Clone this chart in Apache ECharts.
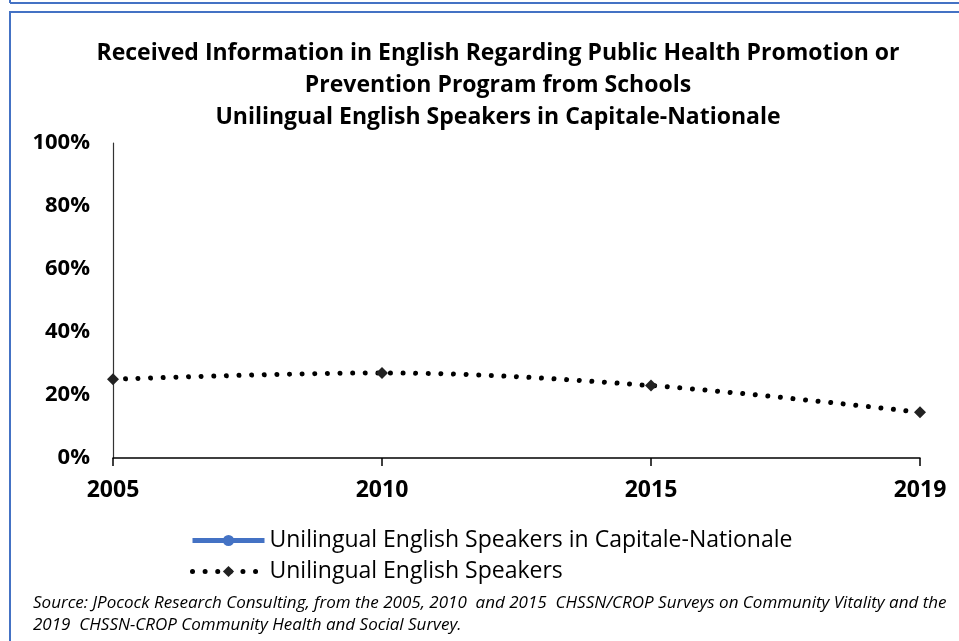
<!DOCTYPE html>
<html>
<head>
<meta charset="utf-8">
<script src="https://cdn.jsdelivr.net/npm/echarts@6/dist/echarts.min.js"></script>
<style>
html,body{margin:0;padding:0;background:#fff;}
#chart{width:959px;height:641px;}
</style>
</head>
<body>
<div id="chart"></div>
<script>
const categories = ['2005', '2010', '2015', '2019'];
const capitaleNationale = [null, null, null, null];
const unilingualEnglish = [25, 27, 23, 14.5];
const yTicks = [0, 20, 40, 60, 80, 100];
const titleLines = [
  'Received Information in English Regarding Public Health Promotion or',
  'Prevention Program from Schools',
  'Unilingual English Speakers in Capitale-Nationale'
];
const sourceLines = [
  'Source: JPocock Research Consulting, from the 2005, 2010  and 2015  CHSSN/CROP Surveys on Community Vitality and the',
  '2019  CHSSN-CROP Community Health and Social Survey.'
];
const seriesNames = ['Unilingual English Speakers in Capitale-Nationale', 'Unilingual English Speakers'];

const FONT = '"Open Sans", Lato, sans-serif';
const dotted = {color: '#000', width: 5, type: [0.01, 12.6], cap: 'round'};
const solidBlue = {color: '#4472C4', width: 5};
const chart = echarts.init(document.getElementById('chart'), null, {renderer: 'canvas'});
chart.setOption({
  animation: false,
  backgroundColor: '#fff',
  textStyle: {fontFamily: FONT},
  title: [
    {
      text: titleLines.join('\n'),
      left: 493, top: 32, textAlign: 'center',
      textStyle: {fontFamily: FONT, fontWeight: 'bold', fontSize: 23, lineHeight: 32, color: '#000'}
    },
    {
      text: sourceLines.join('\n'),
      left: 28, top: 587,
      textStyle: {fontFamily: FONT, fontStyle: 'italic', fontWeight: 'normal', fontSize: 17, lineHeight: 22, color: '#000'}
    }
  ],
  graphic: [
    {type: 'line', shape: {x1: 10, y1: 3, x2: 970, y2: 3}, style: {stroke: '#4472C4', lineWidth: 2}},
    {type: 'line', shape: {x1: 10, y1: 0, x2: 10, y2: 3}, style: {stroke: '#4472C4', lineWidth: 2}},
    {type: 'rect', shape: {x: 10, y: 12, width: 980, height: 700}, style: {stroke: '#4472C4', lineWidth: 2, fill: null}}
  ],
  legend: {
    orient: 'vertical',
    left: 185, top: 524,
    itemWidth: 72, itemHeight: 14, itemGap: 8,
    textStyle: {fontFamily: FONT, fontSize: 23, color: '#000'},
    data: [
      {name: seriesNames[0], lineStyle: solidBlue, itemStyle: {color: '#4472C4'}},
      {name: seriesNames[1], lineStyle: dotted, itemStyle: {color: '#222'}}
    ]
  },
  grid: {left: 113, right: 39, top: 143, bottom: 183, containLabel: false},
  xAxis: {
    type: 'category',
    data: categories,
    boundaryGap: false,
    axisLine: {lineStyle: {color: '#000', width: 1.5}},
    axisTick: {show: true, alignWithLabel: true, length: 8, lineStyle: {color: '#000', width: 1.5}},
    axisLabel: {fontFamily: FONT, fontWeight: 'bold', fontSize: 23, color: '#000', margin: 21}
  },
  yAxis: {
    type: 'value',
    min: yTicks[0], max: yTicks[yTicks.length - 1], interval: 20,
    axisLine: {show: true, lineStyle: {color: '#333', width: 1.2}},
    axisTick: {show: false},
    splitLine: {show: false},
    axisLabel: {fontFamily: FONT, fontWeight: 'bold', fontSize: 22, color: '#000', margin: 23, formatter: '{value}%'}
  },
  series: [
    {
      name: seriesNames[0],
      type: 'line',
      data: capitaleNationale,
      symbol: 'circle', symbolSize: 12,
      itemStyle: {color: '#4472C4'},
      lineStyle: solidBlue
    },
    {
      name: seriesNames[1],
      type: 'line',
      data: unilingualEnglish,
      smooth: 0.35,
      symbol: 'diamond', symbolSize: 12,
      itemStyle: {color: '#222'},
      lineStyle: dotted
    }
  ]
});
</script>
</body>
</html>
